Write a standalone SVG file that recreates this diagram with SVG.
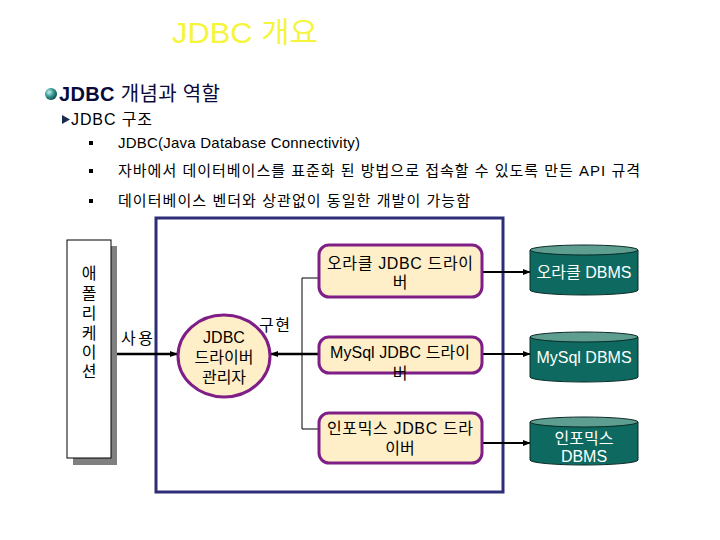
<svg xmlns="http://www.w3.org/2000/svg" width="720" height="540" viewBox="0 0 720 540">
<defs>
<radialGradient id="ball" cx="0.35" cy="0.35" r="0.7">
<stop offset="0" stop-color="#c8f0ee"/>
<stop offset="0.5" stop-color="#3a9a96"/>
<stop offset="1" stop-color="#0c4a48"/>
</radialGradient>
<marker id="ah2" viewBox="0 0 10 10" refX="9" refY="5" markerWidth="8" markerHeight="8" orient="auto" markerUnits="userSpaceOnUse">
<path d="M0,1 L10,5 L0,9 z" fill="#000"/>
</marker>
</defs>
<style>
text{font-family:"Liberation Sans","Noto Sans CJK KR",sans-serif;}
.t{font-size:15px;fill:#000;}
.n{font-size:16px;fill:#000;text-anchor:middle;}
.db{font-size:16px;fill:#fff;text-anchor:middle;}
.drv{fill:#FFEFC8;stroke:#7E1E86;stroke-width:3;}
.cyl{fill:#0E6A60;stroke:#0a2a26;stroke-width:1;}
.cyltop{fill:#5E9E90;stroke:#0a2a26;stroke-width:1;}
.ln{stroke:#000;fill:none;}
</style>
<rect width="720" height="540" fill="#fff"/>
<g id="title">
<text x="172" y="43" textLength="146" lengthAdjust="spacingAndGlyphs" style="font-size:29px;fill:#F5F53C">JDBC 개요</text>
</g>
<g id="heading">
<circle cx="51" cy="94" r="6" fill="url(#ball)"/>
<text x="59" y="101" textLength="161" style="font-size:20px;fill:#0a0a3a"><tspan font-weight="bold">JDBC</tspan> 개념과 역할</text>
<path d="M62,115 L70,119.5 L62,124 z" fill="#1a2a50"/>
<text x="71" y="125" textLength="81" style="font-size:16px;fill:#000">JDBC 구조</text>
<rect x="89" y="141" width="4" height="4" fill="#000"/>
<text class="t" x="118" y="148" textLength="242">JDBC(Java Database Connectivity)</text>
<rect x="89" y="169" width="4" height="4" fill="#000"/>
<text class="t" x="118" y="176" textLength="522">자바에서 데이터베이스를 표준화 된 방법으로 접속할 수 있도록 만든 API 규격</text>
<rect x="89" y="199" width="4" height="4" fill="#000"/>
<text class="t" x="118" y="206" textLength="352">데이터베이스 벤더와 상관없이 동일한 개발이 가능함</text>
</g>
<g id="frame">
<rect x="156" y="218" width="347" height="274" fill="none" stroke="#2E2E78" stroke-width="3"/>
</g>
<g id="connectors">
<line class="ln" x1="111" y1="354" x2="177" y2="354" stroke-width="2.5" marker-end="url(#ah2)"/>
<line class="ln" x1="319" y1="354" x2="271" y2="354" stroke-width="2.5" marker-end="url(#ah2)"/>
<polyline class="ln" points="319,278 302,278 302,429 319,429" stroke-width="1"/>
<line class="ln" x1="482" y1="272" x2="530" y2="272" stroke-width="2" marker-end="url(#ah2)"/>
<line class="ln" x1="482" y1="354" x2="530" y2="354" stroke-width="2" marker-end="url(#ah2)"/>
<line class="ln" x1="482" y1="443" x2="530" y2="443" stroke-width="2" marker-end="url(#ah2)"/>
<text x="121" y="344" textLength="32" style="font-size:16px">사용</text>
<text x="259" y="331" textLength="31" style="font-size:16px">구현</text>
</g>
<g id="app">
<rect x="73" y="246" width="44" height="219" fill="#808080"/>
<rect x="67" y="240" width="44" height="218" fill="#fff" stroke="#000" stroke-width="1"/>
<text class="n" x="89" y="279">애</text>
<text class="n" x="89" y="299">폴</text>
<text class="n" x="89" y="319">리</text>
<text class="n" x="89" y="339">케</text>
<text class="n" x="89" y="358">이</text>
<text class="n" x="89" y="377">션</text>
</g>
<g id="manager">
<ellipse cx="224" cy="356" rx="46" ry="41" class="drv"/>
<text class="n" x="224" y="343">JDBC</text>
<text class="n" x="224" y="363">드라이버</text>
<text class="n" x="224" y="383">관리자</text>
</g>
<g id="oracle-driver">
<rect x="319" y="245" width="163" height="52" rx="10" class="drv"/>
<text class="n" x="400" y="269" textLength="146">오라클 JDBC 드라이</text>
<text class="n" x="400" y="288">버</text>
</g>
<g id="mysql-driver">
<rect x="319" y="337" width="163" height="36" rx="10" class="drv"/>
<text class="n" x="400" y="358" textLength="140">MySql JDBC 드라이</text>
<text class="n" x="400" y="379">버</text>
</g>
<g id="informix-driver">
<rect x="319" y="413" width="163" height="50" rx="10" class="drv"/>
<text class="n" x="400" y="434" textLength="146">인포믹스 JDBC 드라</text>
<text class="n" x="400" y="454">이버</text>
</g>
<g id="oracle-dbms">
<path class="cyl" d="M530,250 L530,290 A54,5 0 0 0 638,290 L638,250 z"/>
<ellipse class="cyltop" cx="584" cy="250" rx="54" ry="5"/>
<text class="db" x="584" y="278">오라클 DBMS</text>
</g>
<g id="mysql-dbms">
<path class="cyl" d="M530,337 L530,377 A54,5 0 0 0 638,377 L638,337 z"/>
<ellipse class="cyltop" cx="584" cy="337" rx="54" ry="5"/>
<text class="db" x="584" y="363">MySql DBMS</text>
</g>
<g id="informix-dbms">
<path class="cyl" d="M530,422 L530,460 A54,5 0 0 0 638,460 L638,422 z"/>
<ellipse class="cyltop" cx="584" cy="422" rx="54" ry="5"/>
<text class="db" x="584" y="444">인포믹스</text>
<text class="db" x="584" y="462">DBMS</text>
</g>
</svg>
